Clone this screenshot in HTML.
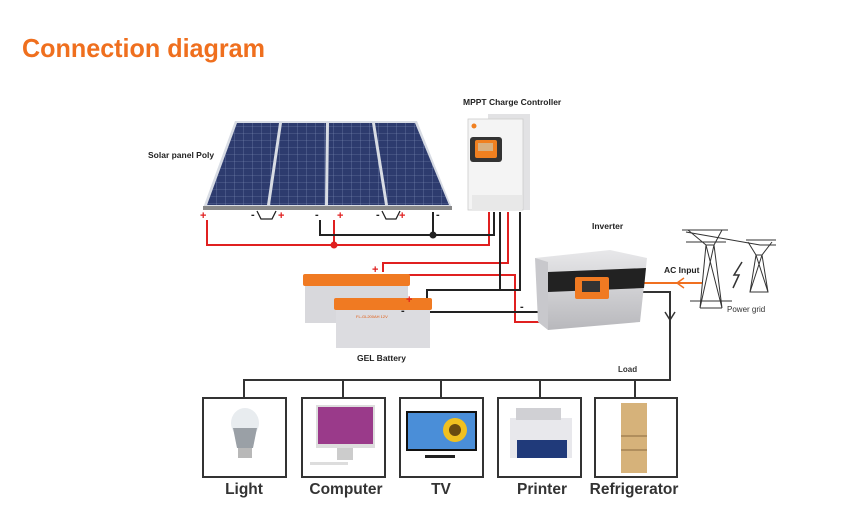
<!DOCTYPE html>
<html><head><meta charset="utf-8"><style>
html,body{margin:0;padding:0;background:#fff;}
svg{display:block;font-family:"Liberation Sans",sans-serif;}
</style></head><body>
<svg width="848" height="508" viewBox="0 0 848 508" xmlns="http://www.w3.org/2000/svg">
<defs>
<pattern id="cells" width="9" height="7" patternUnits="userSpaceOnUse">
<rect width="9" height="7" fill="#2d3b6e"/>
<path d="M0 0H9M0 0V7" stroke="#8090b8" stroke-width="0.6"/>
</pattern>
<linearGradient id="inv" x1="0" y1="0" x2="0" y2="1"><stop offset="0" stop-color="#e8e8ea"/><stop offset="1" stop-color="#b8b8bc"/></linearGradient>
</defs>
<text x="22" y="57" font-size="26" font-weight="bold" fill="#ef6f1e" textLength="243" lengthAdjust="spacingAndGlyphs">Connection diagram</text>

<!-- solar panels -->
<polygon points="235,121 417,121 452,208 203,208" fill="#d8dce4"/>
<polygon points="237,123 279,123 267,205 207,205" fill="url(#cells)"/>
<polygon points="282,123 326,123 325,205 270,205" fill="url(#cells)"/>
<polygon points="329,123 372,123 385,205 328,205" fill="url(#cells)"/>
<polygon points="375,123 415,123 449,205 388,205" fill="url(#cells)"/>
<rect x="203" y="206" width="249" height="4" fill="#888"/>
<text x="148" y="158" font-size="8.5" font-weight="bold" fill="#222">Solar panel Poly</text>
<g font-size="11" font-weight="bold">
<text x="200" y="219" fill="#e02020">+</text>
<text x="251" y="218" fill="#222">-</text>
<text x="278" y="219" fill="#e02020">+</text>
<text x="315" y="218" fill="#222">-</text>
<text x="337" y="219" fill="#e02020">+</text>
<text x="376" y="218" fill="#222">-</text>
<text x="399" y="219" fill="#e02020">+</text>
<text x="436" y="218" fill="#222">-</text>
</g>
<path d="M257 211 L261 219 L272 219 L276 211" fill="none" stroke="#222" stroke-width="1.3"/>
<path d="M382 211 L386 219 L396 219 L400 211" fill="none" stroke="#222" stroke-width="1.3"/>

<!-- controller -->
<text x="463" y="105" font-size="8.5" font-weight="bold" fill="#222">MPPT Charge Controller</text>
<rect x="488" y="114" width="42" height="96" fill="#e2e2e4"/>
<rect x="468" y="119" width="55" height="91" fill="#f4f4f4" stroke="#ccc" stroke-width="0.8"/>
<rect x="470" y="137" width="32" height="25" rx="3" fill="#333"/>
<rect x="475" y="140" width="22" height="18" rx="2" fill="#f08020"/>
<rect x="478" y="143" width="15" height="8" fill="#d8b080"/>
<circle cx="474" cy="126" r="2.5" fill="#f08020"/>
<rect x="472" y="195" width="50" height="15" fill="#e8e8e8"/>

<!-- wires -->
<g fill="none" stroke-width="2">
<path d="M207 220 V245 H489 V212" stroke="#e02020"/>
<path d="M334 220 V245" stroke="#e02020"/>
<path d="M320 220 V235 H494 V212" stroke="#222"/>
<path d="M433 212 V235" stroke="#222"/>
<path d="M508 212 V263 H383 V272" stroke="#e02020"/>
<path d="M383 275 H515 V322 H553" stroke="#e02020"/>
<path d="M500 212 V290" stroke="#222"/>
<path d="M520 212 V290 H427 V312" stroke="#222"/>
<path d="M417 312 H538" stroke="#222"/>
<path d="M385 287 Q392 298 412 302" stroke="#222" stroke-width="3"/>
<path d="M640 292 H670 V380 H244 V398 M343 380 V398 M441 380 V398 M540 380 V398 M635 380 V398" stroke="#333"/>
<path d="M665 312 L670 320 L675 312" stroke="#333" stroke-width="1.5"/>
<path d="M640 283 H702" stroke="#f07020"/>
<path d="M684 278 L677 283 L684 288" stroke="#f07020" stroke-width="1.5"/>
</g>
<circle cx="334" cy="245" r="3.5" fill="#e02020"/>
<circle cx="433" cy="235" r="3.5" fill="#222"/>
<circle cx="417" cy="312" r="4" fill="#222"/>

<!-- batteries -->
<rect x="305" y="283" width="103" height="40" fill="#d8d8dc"/>
<rect x="303" y="274" width="107" height="12" rx="2" fill="#f07a22"/>
<rect x="336" y="307" width="94" height="41" fill="#dcdce0"/>
<rect x="334" y="298" width="98" height="12" rx="2" fill="#f07a22"/>
<text x="356" y="318" font-size="4" fill="#e05a10">FL-GL200AH 12V</text>
<g font-size="11" font-weight="bold">
<text x="372" y="273" fill="#e02020">+</text>
<text x="406" y="303" fill="#e02020">+</text>
<text x="401" y="314" fill="#222">-</text>
<text x="520" y="310" fill="#222">-</text>
</g>
<text x="357" y="361" font-size="8.5" font-weight="bold" fill="#222">GEL Battery</text>

<!-- inverter -->
<text x="592" y="229" font-size="8.5" font-weight="bold" fill="#222">Inverter</text>
<polygon points="535,258 610,250 647,258 640,322 548,330" fill="url(#inv)"/>
<polygon points="535,258 548,262 548,330 538,322" fill="#c8c8cc"/>
<polygon points="548,272 646,268 644,288 548,292" fill="#222"/>
<rect x="575" y="277" width="34" height="22" rx="2" fill="#f07a22"/>
<rect x="582" y="281" width="18" height="11" fill="#333"/>

<!-- pylons -->
<g fill="none" stroke="#333" stroke-width="1">
<path d="M682 230 H728 M686 242 H726 M700 308 L706 245 L714 245 L722 308 M700 308 L722 308 M706 245 L722 308 M714 245 L700 308 M688 230 L706 245 M722 230 L714 245 M690 301 H732"/>
<path d="M686 232 L760 245 L776 245 M746 240 H776 M750 292 L756 255 L762 255 L768 292 Z M756 255 L768 292 M762 255 L750 292 M748 242 L756 255 M772 242 L762 255"/>
<path d="M742 262 L734 275 L739 275 L733 288" stroke-width="1.5"/>
</g>
<text x="664" y="273" font-size="8.5" font-weight="bold" fill="#222">AC Input</text>
<text x="727" y="312" font-size="8" fill="#333">Power grid</text>
<text x="618" y="372" font-size="8" font-weight="bold" fill="#333">Load</text>

<!-- load boxes -->
<g fill="#fff" stroke="#333" stroke-width="2">
<rect x="203" y="398" width="83" height="79"/>
<rect x="302" y="398" width="83" height="79"/>
<rect x="400" y="398" width="83" height="79"/>
<rect x="498" y="398" width="83" height="79"/>
<rect x="595" y="398" width="82" height="79"/>
</g>
<ellipse cx="245" cy="423" rx="14" ry="15" fill="#e8ecef"/>
<path d="M233 428 L237 448 H253 L257 428 Z" fill="#9aa0a6"/>
<rect x="238" y="448" width="14" height="10" fill="#b8b8b8"/>
<rect x="316" y="405" width="59" height="43" fill="#ddd"/>
<rect x="318" y="407" width="55" height="37" fill="#9a3a8a"/>
<rect x="337" y="448" width="16" height="12" fill="#ccc"/>
<rect x="310" y="462" width="38" height="3" fill="#ddd"/>
<rect x="406" y="411" width="71" height="40" fill="#111"/>
<rect x="408" y="413" width="67" height="36" fill="#4a8ed8"/>
<circle cx="455" cy="430" r="12" fill="#f0c020"/>
<circle cx="455" cy="430" r="6" fill="#6a4a10"/>
<rect x="425" y="455" width="30" height="3" fill="#222"/>
<rect x="510" y="418" width="62" height="40" fill="#e8e8ec"/>
<rect x="516" y="408" width="45" height="12" fill="#d0d0d4"/>
<rect x="517" y="440" width="50" height="18" fill="#203a7a"/>
<rect x="621" y="403" width="26" height="70" fill="#d6b27a"/>
<path d="M621 436 H647 M621 450 H647" stroke="#8a6a40" stroke-width="1"/>

<g font-size="15.5" font-weight="bold" fill="#333" text-anchor="middle">
<text x="244" y="494">Light</text>
<text x="346" y="494">Computer</text>
<text x="441" y="494">TV</text>
<text x="542" y="494">Printer</text>
<text x="634" y="494">Refrigerator</text>
</g>
</svg>
</body></html>
